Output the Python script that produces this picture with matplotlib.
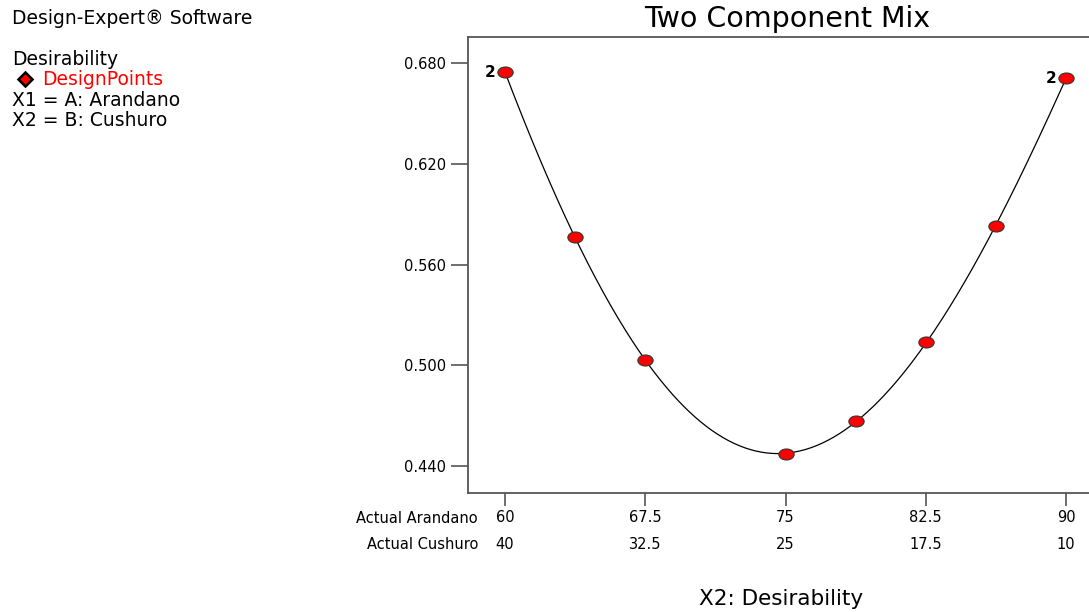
import numpy as np
import matplotlib
matplotlib.use('Agg')
import matplotlib.pyplot as plt
from matplotlib.path import Path
from matplotlib.lines import Line2D

plt.rcParams['font.family'] = ['DejaVu Sans']

# design points (A: Arandano) and measured desirability
arandano = [60, 63.75, 67.5, 75, 78.75, 82.5, 86.25, 90]
desirability = [0.6746, 0.5764, 0.5031, 0.4471, 0.4668, 0.5137, 0.5829, 0.6711]
replicates = [2, 1, 1, 1, 1, 1, 1, 2]

tick_arandano = [60, 67.5, 75, 82.5, 90]
tick_cushuro = ['40', '32.5', '25', '17.5', '10']
tick_arandano_lbl = ['60', '67.5', '75', '82.5', '90']
yticks = [0.440, 0.500, 0.560, 0.620, 0.680]

W, H = 1089, 612
fig = plt.figure(figsize=(W / 100, H / 100), dpi=100)

def fx(px):
    return px / W

def fy(py):
    return 1 - py / H

ax = fig.add_axes([fx(468), fy(493), 627.4 / W, 456 / H])
ax.set_xlim(58.02, 58.02 + 627.4 / 18.7)
ax.set_ylim(0.4240, 0.6956)

# model curve fitted to the design points
coef = np.polyfit(arandano, desirability, 4, w=np.sqrt(replicates))
xs = np.linspace(60, 90, 300)
ax.plot(xs, np.polyval(coef, xs), color='black', lw=0.9, zorder=2)

ell = Path.unit_circle().transformed(matplotlib.transforms.Affine2D().scale(1, 0.72))
ax.plot(arandano, desirability, ls='none', marker=ell, markersize=11,
        markerfacecolor='#ff0000', markeredgecolor='#333333', markeredgewidth=0.8,
        zorder=3, clip_on=False)

for x, y, n in zip(arandano, desirability, replicates):
    if n > 1:
        ax.annotate(str(n), (x, y), xytext=(-7, 0), textcoords='offset points',
                    ha='right', va='center', fontsize=11, fontweight='bold')

for s in ['left', 'bottom', 'top', 'right']:
    ax.spines[s].set_color('#555555')
    ax.spines[s].set_linewidth(1.3)

ax.set_yticks(yticks)
ax.set_yticklabels(['%.3f' % v for v in yticks])
ax.set_xticks(tick_arandano)
ax.set_xticklabels([a + '\n' + c for a, c in zip(tick_arandano_lbl, tick_cushuro)],
                   linespacing=1.95)
ax.tick_params(axis='y', length=12, width=1.2, color='#555555', pad=4, labelsize=10.5)
ax.tick_params(axis='x', length=9.5, width=1.2, color='#555555', pad=3, labelsize=10.5)

fig.text(fx(478), fy(523), 'Actual Arandano', ha='right', va='baseline', fontsize=10.5)
fig.text(fx(478), fy(549), 'Actual Cushuro', ha='right', va='baseline', fontsize=10.5)

fig.text(fx(787), fy(27), 'Two Component Mix', ha='center', va='baseline', fontsize=20.5)
fig.text(fx(781), fy(605), 'X2: Desirability', ha='center', va='baseline', fontsize=15.5)

fs = 13.5
fig.text(fx(12), fy(24), 'Design-Expert® Software', ha='left', va='baseline', fontsize=fs)
fig.text(fx(12), fy(65), 'Desirability', ha='left', va='baseline', fontsize=fs)
fig.text(fx(42), fy(85), 'DesignPoints', ha='left', va='baseline', fontsize=fs, color='#ff0000')
fig.text(fx(12), fy(106), 'X1 = A: Arandano', ha='left', va='baseline', fontsize=fs)
fig.text(fx(12), fy(126), 'X2 = B: Cushuro', ha='left', va='baseline', fontsize=fs)
fig.add_artist(Line2D([fx(25)], [fy(79)], marker='D', markersize=7, ls='none',
                      markerfacecolor='#ff0000', markeredgecolor='black',
                      markeredgewidth=1.8, transform=fig.transFigure))

fig.savefig('out.png', dpi=100)
